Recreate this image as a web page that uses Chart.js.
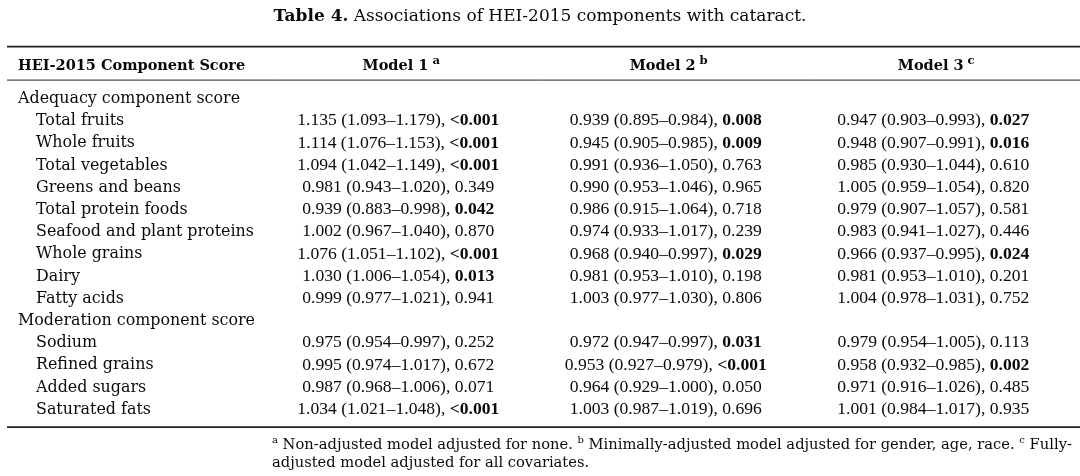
<!DOCTYPE html>
<html>
<head>
<meta charset="utf-8">
<script src="https://cdn.jsdelivr.net/npm/chart.js@4"></script>
<style>
  html, body { margin: 0; padding: 0; background: #fff; }
  #wrap { width: 1080px; height: 476px; position: relative; }
</style>
</head>
<body>
<div id="wrap"><canvas id="tbl"></canvas></div>
<script>
// table rows (group headers have no values)
const rowLabels = [
    'Adequacy component score', 'Total fruits', 'Whole fruits', 'Total vegetables',
    'Greens and beans', 'Total protein foods', 'Seafood and plant proteins',
    'Whole grains', 'Dairy', 'Fatty acids',
    'Moderation component score', 'Sodium', 'Refined grains', 'Added sugars', 'Saturated fats'
];
const groupRows = ['Adequacy component score', 'Moderation component score'];
const models = ['Model 1', 'Model 2', 'Model 3'];
const modelNotes = ['a', 'b', 'c'];

// OR (95% CI), p  -- null on group rows
const or1 = [null, 1.135, 1.114, 1.094, 0.981, 0.939, 1.002, 1.076, 1.030, 0.999, null, 0.975, 0.995, 0.987, 1.034];
const lo1 = [null, 1.093, 1.076, 1.042, 0.943, 0.883, 0.967, 1.051, 1.006, 0.977, null, 0.954, 0.974, 0.968, 1.021];
const hi1 = [null, 1.179, 1.153, 1.149, 1.020, 0.998, 1.040, 1.102, 1.054, 1.021, null, 0.997, 1.017, 1.006, 1.048];
const p1  = [null, '<0.001', '<0.001', '<0.001', '0.349', '0.042', '0.870', '<0.001', '0.013', '0.941', null, '0.252', '0.672', '0.071', '<0.001'];

const or2 = [null, 0.939, 0.945, 0.991, 0.990, 0.986, 0.974, 0.968, 0.981, 1.003, null, 0.972, 0.953, 0.964, 1.003];
const lo2 = [null, 0.895, 0.905, 0.936, 0.953, 0.915, 0.933, 0.940, 0.953, 0.977, null, 0.947, 0.927, 0.929, 0.987];
const hi2 = [null, 0.984, 0.985, 1.050, 1.046, 1.064, 1.017, 0.997, 1.010, 1.030, null, 0.997, 0.979, 1.000, 1.019];
const p2  = [null, '0.008', '0.009', '0.763', '0.965', '0.718', '0.239', '0.029', '0.198', '0.806', null, '0.031', '<0.001', '0.050', '0.696'];

const or3 = [null, 0.947, 0.948, 0.985, 1.005, 0.979, 0.983, 0.966, 0.981, 1.004, null, 0.979, 0.958, 0.971, 1.001];
const lo3 = [null, 0.903, 0.907, 0.930, 0.959, 0.907, 0.941, 0.937, 0.953, 0.978, null, 0.954, 0.932, 0.916, 0.984];
const hi3 = [null, 0.993, 0.991, 1.044, 1.054, 1.057, 1.027, 0.995, 1.010, 1.031, null, 1.005, 0.985, 1.026, 1.017];
const p3  = [null, '0.027', '0.016', '0.610', '0.820', '0.581', '0.446', '0.024', '0.201', '0.752', null, '0.113', '0.002', '0.485', '0.935'];

const titleBold = 'Table 4.';
const titleText = ' Associations of HEI-2015 components with cataract.';
const headerFirst = 'HEI-2015 Component Score';
const footLine1 = [
    { t: 'a', sup: true }, { t: ' Non-adjusted model adjusted for none. ' },
    { t: 'b', sup: true }, { t: ' Minimally-adjusted model adjusted for gender, age, race. ' },
    { t: 'c', sup: true }, { t: ' Fully-' }
];
const footLine2 = [{ t: 'adjusted model adjusted for all covariates.' }];

const allOr = [or1, or2, or3];
const allLo = [lo1, lo2, lo3];
const allHi = [hi1, hi2, hi3];
const allP = [p1, p2, p3];

const LABEL_FONT = '"DejaVu Serif"';
const NUM_FONT = '"Liberation Serif"';

function isSignificant(p) {
    return p.startsWith('<') || parseFloat(p) < 0.05;
}

function drawRuns(ctx, runs, x, y, align, family, size) {
    const fontOf = r => (r.bold ? 'bold ' : '') + (r.sup ? size * (r.supScale || 0.68) : size) + 'px ' + (r.family || family);
    let total = 0;
    runs.forEach(r => { ctx.font = fontOf(r); total += ctx.measureText(r.t).width; });
    let cx = align === 'center' ? x - total / 2 : (align === 'right' ? x - total : x);
    ctx.textAlign = 'left';
    ctx.textBaseline = 'alphabetic';
    runs.forEach(r => {
        ctx.font = fontOf(r);
        ctx.fillText(r.t, cx, r.sup ? y - size * 0.4 : y);
        cx += ctx.measureText(r.t).width;
    });
}

function hline(ctx, x1, x2, y, w) {
    ctx.beginPath();
    ctx.lineWidth = w;
    ctx.strokeStyle = '#222';
    ctx.moveTo(x1, y);
    ctx.lineTo(x2, y);
    ctx.stroke();
}

const tablePlugin = {
    id: 'tableText',
    afterDatasetsDraw(chart) {
        const ctx = chart.ctx;
        const xs = chart.scales.x;
        const ys = chart.scales.y;
        const area = chart.chartArea;
        const rowH = ys.getPixelForValue(1) - ys.getPixelForValue(0);
        const firstY = ys.getPixelForValue(0);
        const lastY = ys.getPixelForValue(rowLabels.length - 1);
        ctx.save();
        ctx.fillStyle = '#0a0a0a';

        // title
        drawRuns(ctx, [{ t: titleBold, bold: true }, { t: titleText }], 540, 21, 'center', LABEL_FONT, 17);

        // rules
        hline(ctx, 7, 1080, firstY - 50.5, 1.8);
        hline(ctx, 7, 1080, firstY - 17, 1);
        hline(ctx, 7, 1080, lastY + rowH * 0.87, 1.8);

        // header row
        const headY = firstY - 27;
        drawRuns(ctx, [{ t: headerFirst, bold: true }], 18, headY, 'left', LABEL_FONT, 14.5);
        models.forEach((m, i) => {
            drawRuns(ctx, [{ t: m, bold: true }, { t: ' ' + modelNotes[i], bold: true, sup: true, supScale: 0.8 }],
                xs.getPixelForValue(i + 1), headY, 'center', LABEL_FONT, 14.5);
        });

        // row labels
        rowLabels.forEach((lab, i) => {
            const y = ys.getPixelForValue(i) + 5.8;
            const indent = groupRows.includes(lab) ? 18 : 36;
            drawRuns(ctx, [{ t: lab }], area.left + indent, y, 'left', LABEL_FONT, 15.9);
        });

        // cells, placed at each point element
        chart.data.datasets.forEach((ds, di) => {
            const meta = chart.getDatasetMeta(di);
            meta.data.forEach((el, k) => {
                const d = ds.data[k];
                const runs = [
                    { t: d.or.toFixed(3) + ' (' + d.lo.toFixed(3) + '\u2013' + d.hi.toFixed(3) + '), ' },
                    { t: d.p, bold: isSignificant(d.p) }
                ];
                drawRuns(ctx, runs, el.x - 3, el.y + 6, 'center', NUM_FONT, 17.6);
            });
        });

        // footnote
        const footY = lastY + rowH * 0.87 + 22;
        drawRuns(ctx, footLine1, 272, footY, 'left', LABEL_FONT, 14.7);
        drawRuns(ctx, footLine2, 272, footY + 18, 'left', LABEL_FONT, 14.7);
        ctx.restore();
    }
};

const datasets = models.map((m, mi) => ({
    label: m,
    data: rowLabels.map((lab, i) => allOr[mi][i] === null ? null : {
        x: mi + 1, y: lab,
        or: allOr[mi][i], lo: allLo[mi][i], hi: allHi[mi][i], p: allP[mi][i]
    }).filter(d => d !== null),
    pointRadius: 0,
    pointHoverRadius: 0,
    showLine: false
}));

new Chart(document.getElementById('tbl'), {
    type: 'scatter',
    data: { datasets: datasets },
    options: {
        responsive: true,
        maintainAspectRatio: false,
        animation: false,
        events: [],
        layout: { padding: { left: 0, right: 10, top: 86, bottom: 57 } },
        plugins: { legend: { display: false }, tooltip: { enabled: false } },
        scales: {
            x: { type: 'linear', min: -0.5, max: 3.5, display: false },
            y: { type: 'category', labels: rowLabels, offset: true, display: false }
        }
    },
    plugins: [tablePlugin]
});
</script>
</body>
</html>
